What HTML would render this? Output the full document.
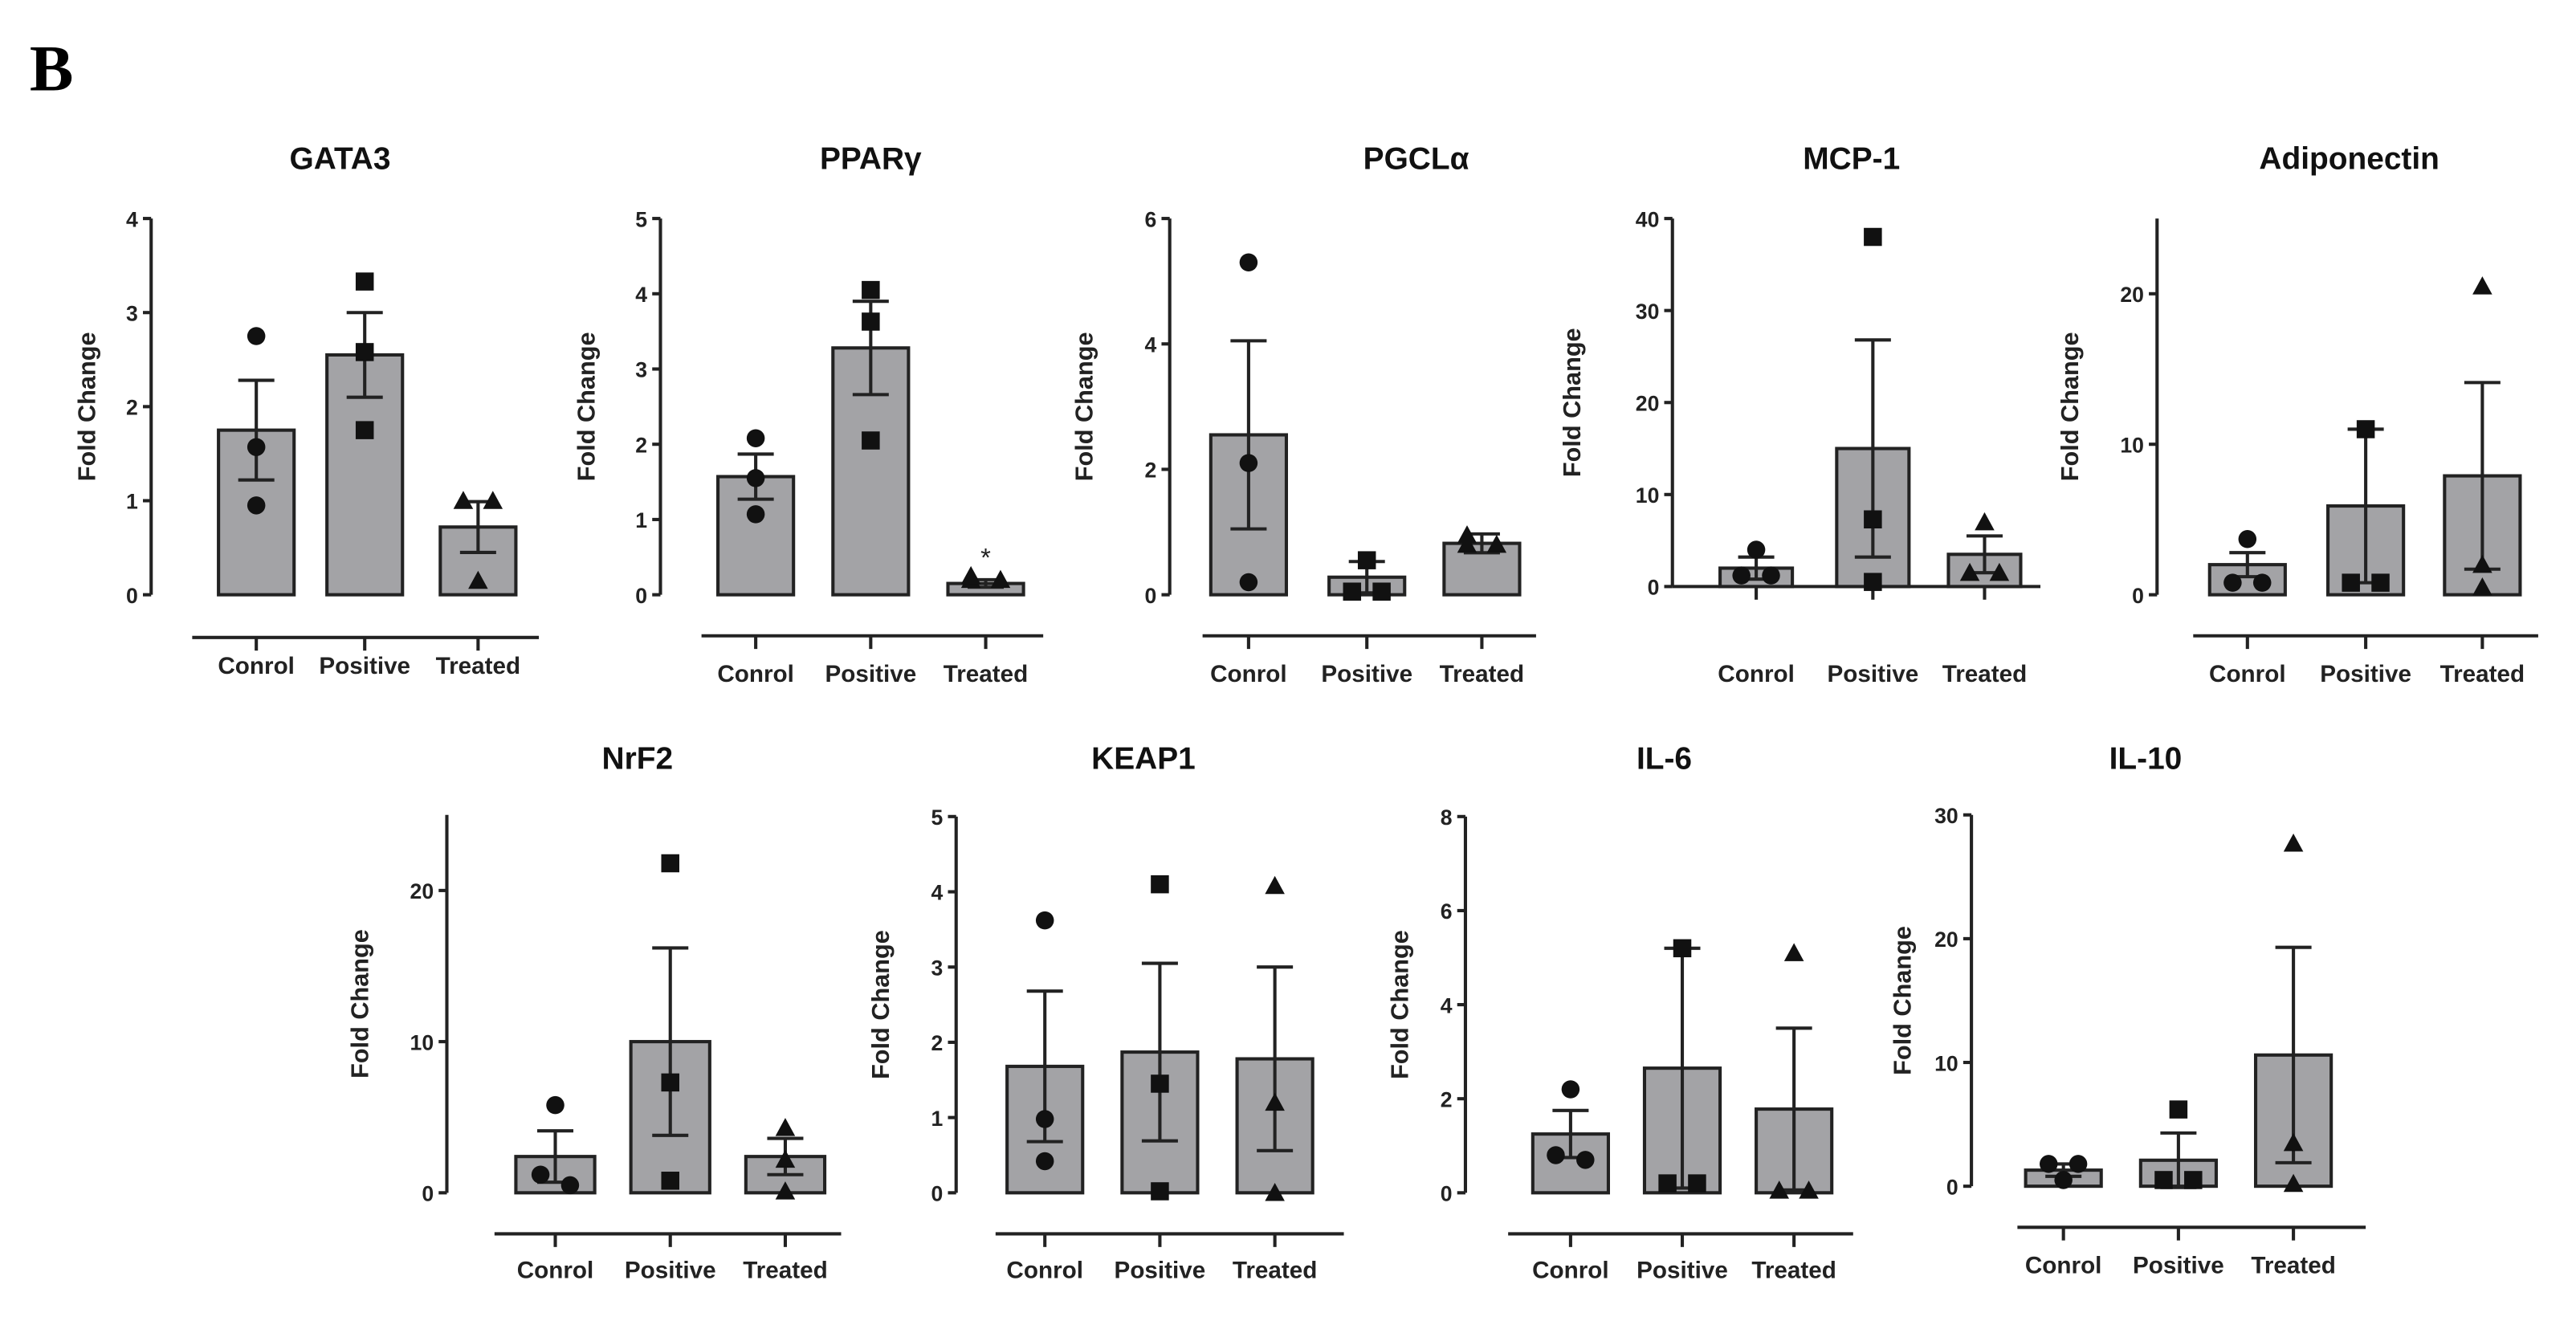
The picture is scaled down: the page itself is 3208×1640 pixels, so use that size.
<!DOCTYPE html>
<html><head><meta charset="utf-8"><style>
html,body{margin:0;padding:0;background:#fff;}
svg{display:block;font-family:"Liberation Sans",Arial,sans-serif;}
</style></head><body>
<svg id="fig" width="3208" height="1640" viewBox="0 0 1568 801.6" xmlns="http://www.w3.org/2000/svg">
<rect width="1568" height="801.6" fill="#fff"/>
<text x="18" y="55" font-family="Liberation Serif,serif" font-weight="bold" font-size="40">B</text>
</svg>
<script>
const categories = ["Conrol","Positive","Treated"];
const titles = ["GATA3","PPARγ","PGCLα","MCP-1","Adiponectin","NrF2","KEAP1","IL-6","IL-10"];
const means = [[1.75,2.55,0.72],[1.57,3.28,0.15],[2.55,0.28,0.82],[2,15,3.5],[2,5.9,7.9],[2.4,10,2.4],[1.68,1.87,1.78],[1.25,2.65,1.78],[1.3,2.1,10.6]];
const sems = [[0.53,0.45,0.27],[0.3,0.62,0.05],[1.5,0.25,0.15],[1.2,11.8,2],[0.8,5.1,6.2],[1.7,6.2,1.2],[1.0,1.18,1.22],[0.5,2.55,1.72],[0.5,2.2,8.7]];
const points = [
 [[2.75,1.57,0.95],[3.33,2.58,1.75],[1.0,1.0,0.15]],
 [[2.08,1.55,1.07],[4.05,3.63,2.05],[0.2,0.25,0.2]],
 [[5.3,2.1,0.2],[0.55,0.05,0.05],[0.95,0.8,0.8]],
 [[4,1.2,1.2],[38,7.3,0.5],[7,1.5,1.5]],
 [[3.7,0.8,0.8],[11,0.8,0.8],[20.5,2,0.5]],
 [[5.8,1.2,0.5],[21.8,7.3,0.8],[4.3,2.2,0.1]],
 [[3.62,0.98,0.42],[4.1,1.45,0.02],[4.08,1.2,0.0]],
 [[2.2,0.8,0.7],[5.2,0.2,0.2],[5.1,0.05,0.05]],
 [[1.8,0.5,1.8],[6.2,0.5,0.5],[27.7,3.5,0.2]]
];
const yMax = [4,5,6,40,25,25,5,8,30];
const yTicks = [[0,1,2,3,4],[0,1,2,3,4,5],[0,2,4,6],[0,10,20,30,40],[0,10,20],[0,10,20],[0,1,2,3,4,5],[0,2,4,6,8],[0,10,20,30]];
// layout (not data)
const L = [
 {ax:92,top:133,zero:362,bars:[156,222,291],bw:46,xl:388,lab:405,yt:58,tx:207,ty:103,lx:[117,328]},
 {ax:402,top:133,zero:362,bars:[460,530,600],bw:46,xl:387,lab:410,yt:362,tx:530,ty:103,lx:[427,635]},
 {ax:712,top:133,zero:362,bars:[760,832,902],bw:46,xl:387,lab:410,yt:665,tx:862,ty:103,lx:[732,935]},
 {ax:1018,top:133,zero:357,bars:[1069,1140,1208],bw:44,xl:357,lab:410,yt:962,tx:1127,ty:103,lx:[1018,1242]},
 {ax:1313,top:133,zero:362,bars:[1368,1440,1511],bw:46,xl:387,lab:410,yt:1265,tx:1430,ty:103,lx:[1335,1545]},
 {ax:272,top:496,zero:726,bars:[338,408,478],bw:48,xl:751,lab:773,yt:224,tx:388,ty:468,lx:[301,512]},
 {ax:582,top:497,zero:726,bars:[636,706,776],bw:46,xl:751,lab:773,yt:541,tx:696,ty:468,lx:[606,818]},
 {ax:892,top:497,zero:726,bars:[956,1024,1092],bw:46,xl:751,lab:773,yt:857,tx:1013,ty:468,lx:[918,1128]},
 {ax:1200,top:496,zero:722,bars:[1256,1326,1396],bw:46,xl:747,lab:770,yt:1163,tx:1306,ty:468,lx:[1228,1440]}
];
const svg=document.getElementById('fig');
const NS='http://www.w3.org/2000/svg';
function mk(tag,attrs,parent){const e=document.createElementNS(NS,tag);for(const k in attrs)e.setAttribute(k,attrs[k]);(parent||svg).appendChild(e);return e;}
titles.forEach((t,p)=>{
 const l=L[p];
 const g=mk('g',{});
 
 
 const y=v=>l.zero-(v/yMax[p])*(l.zero-l.top);
 const tt=mk('text',{x:l.tx,y:l.ty,'text-anchor':'middle','font-size':19,'font-weight':'bold',fill:'#111'},g);tt.textContent=t;
 
 
 const yt=mk('text',{transform:`translate(${l.yt},${(l.top+l.zero)/2}) rotate(-90)`,'text-anchor':'middle','font-size':15,'font-weight':'bold',fill:'#222'},g);yt.textContent='Fold Change';
 
 
 const ya=mk('line',{x1:l.ax,x2:l.ax,y1:l.top,y2:l.zero,stroke:'#222','stroke-width':2},g);
 
 
 yTicks[p].forEach(v=>{
  mk('line',{x1:l.ax-5,x2:l.ax,y1:y(v),y2:y(v),stroke:'#222','stroke-width':2},g);
  const tx=mk('text',{x:l.ax-8,y:y(v)+5,'text-anchor':'end','font-size':13,'font-weight':'bold',fill:'#222'},g);tx.textContent=v;
  
  
 });
 const xa=mk('line',{x1:l.lx[0],x2:l.lx[1],y1:l.xl,y2:l.xl,stroke:'#222','stroke-width':2},g);
 
 
 categories.forEach((c,i)=>{
  const cx=l.bars[i];
  mk('line',{x1:cx,x2:cx,y1:l.xl,y2:l.xl+8,stroke:'#222','stroke-width':2},g);
  const lb=mk('text',{x:cx,y:l.lab+5,'text-anchor':'middle','font-size':14.5,'font-weight':'bold',fill:'#222'},g);lb.textContent=c;
  
  
  const m=means[p][i],s=sems[p][i];
  const b=mk('rect',{x:cx-l.bw/2,y:y(m),width:l.bw,height:l.zero-y(m),fill:'#a3a3a6',stroke:'#222','stroke-width':2},g);
  
  
  const eb=mk('path',{d:`M${cx},${y(m-s)}V${y(m+s)}M${cx-11},${y(m+s)}H${cx+11}M${cx-11},${y(m-s)}H${cx+11}`,stroke:'#222','stroke-width':2,fill:'none'},g);
  
  
  const pts=points[p][i];
  pts.forEach((v,j)=>{
   let dx=0;
   pts.forEach((w,k)=>{if(k!==j&&Math.abs(y(w)-y(v))<9){dx=k<j?9:-9;}});
   const px=cx+dx,py=y(v);let e;
   if(i===0)e=mk('circle',{cx:px,cy:py,r:5.5,fill:'#111'},g);
   else if(i===1)e=mk('rect',{x:px-5.5,y:py-5.5,width:11,height:11,fill:'#111'},g);
   else e=mk('path',{d:`M${px},${py-6}L${px+6},${py+5}L${px-6},${py+5}Z`,fill:'#111'},g);
   
   
  });
 });
 if(p===1){const st=mk('text',{x:l.bars[2],y:y(0.55)+8,'text-anchor':'middle','font-size':16,fill:'#222'},g);st.textContent='*';
  
  }
});
</script>
</body></html>
